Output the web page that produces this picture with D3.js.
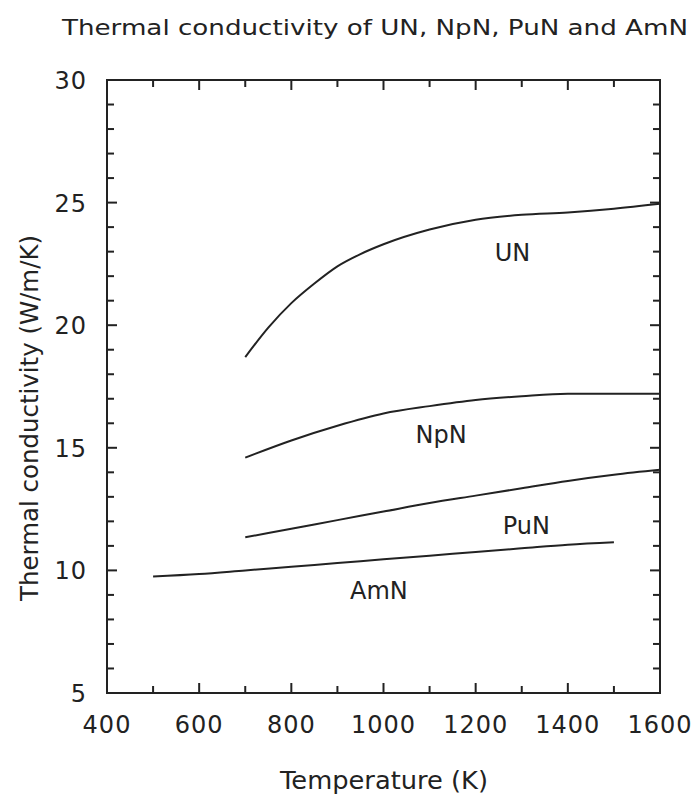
<!DOCTYPE html>
<html>
<head>
<meta charset="utf-8">
<script src="https://cdn.jsdelivr.net/npm/d3@7"></script>
<style>
body{margin:0;background:#fff;}
text{font-family:"DejaVu Sans",sans-serif;fill:#222;}
</style>
</head>
<body>
<script>
var margin = {left:107,right:36,top:80,bottom:103};
var width = 696, height = 796;
var w = width - margin.left - margin.right;
var h = height - margin.top - margin.bottom;

// data
var unT   = [700,750,800,850,900,950,1000,1100,1200,1300,1400,1500,1600];
var unK   = [18.7,19.9,20.9,21.7,22.4,22.9,23.3,23.9,24.3,24.5,24.6,24.75,24.95];
var npnT  = [700,800,900,1000,1100,1200,1300,1400,1500,1600];
var npnK  = [14.6,15.3,15.9,16.4,16.7,16.95,17.1,17.2,17.2,17.2];
var punT  = [700,800,900,1000,1100,1200,1300,1400,1500,1600];
var punK  = [11.35,11.7,12.05,12.4,12.75,13.05,13.35,13.65,13.9,14.1];
var amnT  = [500,600,700,800,900,1000,1100,1200,1300,1400,1500];
var amnK  = [9.75,9.85,10.0,10.15,10.3,10.45,10.6,10.75,10.9,11.05,11.15];
var names = ["UN","NpN","PuN","AmN"];
var labelAt = [[1280,22.6],[1125,15.2],[1310,11.5],[990,8.85]];
var xTicks = [400,600,800,1000,1200,1400,1600];
var yTicks = [5,10,15,20,25,30];

var series = [[unT,unK],[npnT,npnK],[punT,punK],[amnT,amnK]];

var svg = d3.select("body").append("svg").attr("width",width).attr("height",height);
var chartGroup = svg.append("g").attr("transform","translate("+margin.left+","+margin.top+")");

var x = d3.scaleLinear().domain([400,1600]).range([0,w]);
var y = d3.scaleLinear().domain([5,30]).range([h,0]);

// frame
chartGroup.append("rect").attr("width",w).attr("height",h)
    .attr("fill","none").attr("stroke","#222").attr("stroke-width",2);

// ticks, inward on all four sides
var xMinor = d3.range(500,1600,200);
var yMinor = d3.range(5,30,1).filter(function(d){return d%5!=0;});
function ticks(vals,len,cls){
    vals.forEach(function(v){
        chartGroup.append("line").attr("x1",x(v)).attr("x2",x(v)).attr("y1",h).attr("y2",h-len).attr("class",cls);
        chartGroup.append("line").attr("x1",x(v)).attr("x2",x(v)).attr("y1",0).attr("y2",len).attr("class",cls);
    });
}
ticks(xTicks.slice(1,-1),10,"t");
ticks(xMinor,7,"t");
function yticks(vals,len){
    vals.forEach(function(v){
        chartGroup.append("line").attr("y1",y(v)).attr("y2",y(v)).attr("x1",0).attr("x2",len).attr("class","t");
        chartGroup.append("line").attr("y1",y(v)).attr("y2",y(v)).attr("x1",w).attr("x2",w-len).attr("class","t");
    });
}
yticks(yTicks.slice(1,-1),10);
yticks(yMinor,7);
chartGroup.selectAll("line.t").attr("stroke","#222").attr("stroke-width",2);

// tick labels
chartGroup.selectAll("text.xl").data(xTicks).enter().append("text")
    .attr("x",function(d){return x(d);}).attr("y",h+40)
    .attr("text-anchor","middle").attr("font-size",24).attr("letter-spacing",1)
    .text(function(d){return d;});
chartGroup.selectAll("text.yl").data(yTicks).enter().append("text")
    .attr("x",-20).attr("y",function(d){return y(d)+9;})
    .attr("text-anchor","end").attr("font-size",24).attr("letter-spacing",1)
    .text(function(d){return d;});

// curves
var line = d3.line().x(function(d){return x(d[0]);}).y(function(d){return y(d[1]);}).curve(d3.curveMonotoneX);
chartGroup.selectAll("path.curve").data(series).enter().append("path")
    .attr("class","curve")
    .attr("d",function(s){return line(d3.zip(s[0],s[1]));})
    .attr("fill","none").attr("stroke","#222").attr("stroke-width",2);

chartGroup.selectAll("text.name").data(names).enter().append("text")
    .attr("x",function(d,i){return x(labelAt[i][0]);})
    .attr("y",function(d,i){return y(labelAt[i][1]);})
    .attr("text-anchor","middle").attr("font-size",24)
    .text(function(d){return d;});

// titles
svg.append("text").attr("x",62).attr("y",35).attr("font-size",22)
    .attr("textLength",626).attr("lengthAdjust","spacingAndGlyphs")
    .text("Thermal conductivity of UN, NpN, PuN and AmN");
svg.append("text").attr("x",280).attr("y",789).attr("font-size",25)
    .attr("textLength",208).attr("lengthAdjust","spacingAndGlyphs")
    .text("Temperature (K)");
svg.append("text").attr("transform","translate(38,418) rotate(-90)")
    .attr("text-anchor","middle").attr("font-size",24)
    .attr("textLength",366).attr("lengthAdjust","spacingAndGlyphs")
    .text("Thermal conductivity (W/m/K)");
</script>
</body>
</html>
